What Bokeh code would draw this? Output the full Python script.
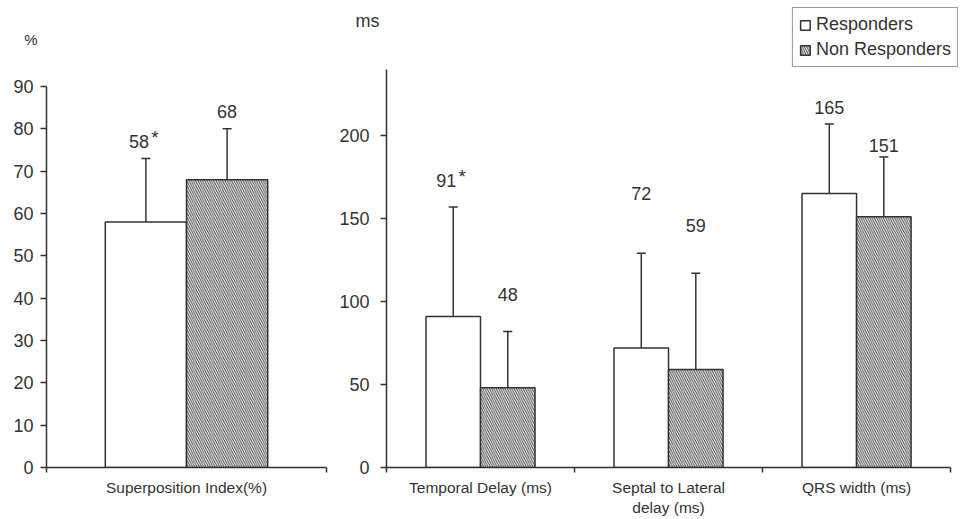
import numpy as np
from bokeh.plotting import figure
from bokeh.layouts import row
from bokeh.models import FixedTicker, Legend, LegendItem, Range1d, LinearAxis
from bokeh.core.properties import value
from bokeh.embed import file_html
from bokeh.resources import INLINE

# ---------------- data ----------------
left_categories = ["Superposition Index(%)"]
left_responders = [58]
left_responders_sd = [15]
left_non_responders = [68]
left_non_responders_sd = [12]
left_resp_label_y = [77]
left_non_label_y = [84]
left_resp_sig = [True]
left_non_sig = [False]

right_categories = ["Temporal Delay (ms)", "Septal to Lateral\ndelay (ms)", "QRS width (ms)"]
right_responders = [91, 72, 165]
right_responders_sd = [66, 57, 42]
right_non_responders = [48, 59, 151]
right_non_responders_sd = [34, 58, 36]
right_resp_label_y = [173, 165, 217]
right_non_label_y = [104, 146, 194]
right_resp_sig = [True, False, False]
right_non_sig = [False, False, False]

left_yticks = list(range(0, 91, 10))
left_ymax = 90
left_unit = "%"
left_unit_y = 101
right_yticks = [0, 50, 100, 150, 200]
right_ymax = 240
right_unit = "ms"
right_unit_y = 269

FONT = "Liberation Sans"
DARK = "#333333"
TEXT = "#333333"

FRAME_BOTTOM = 467  # pixel row of the x axis


def make_fig(width, border_left, border_right, n, xpad, ymax, yscale, yticks, standoff):
    # frame reaches the top of the canvas; axis line limited with bounds
    p = figure(width=width, height=519, output_backend="svg", toolbar_location=None,
               x_range=Range1d(0, n + xpad), y_range=Range1d(0, FRAME_BOTTOM / yscale),
               min_border_left=border_left, min_border_right=border_right,
               min_border_top=0, min_border_bottom=519 - FRAME_BOTTOM)
    p.outline_line_color = None
    p.grid.visible = False
    p.background_fill_color = "white"
    p.border_fill_color = "white"
    ya = p.yaxis[0]
    ya.bounds = (0, ymax)
    ya.ticker = FixedTicker(ticks=yticks)
    ya.major_tick_out = 6
    ya.major_tick_in = 0
    ya.minor_tick_out = 0
    ya.minor_tick_in = 0
    ya.axis_line_color = DARK
    ya.axis_line_width = 1.5
    ya.major_tick_line_color = DARK
    ya.major_tick_line_width = 1.5
    ya.major_label_text_font = FONT
    ya.major_label_text_font_size = "18px"
    ya.major_label_text_color = TEXT
    ya.major_label_standoff = standoff
    return p


def add_unit(p, text, y, standoff, size):
    # unit caption above the y axis, drawn as a label-only axis
    ax = LinearAxis(ticker=FixedTicker(ticks=[y]), major_label_overrides={y: text},
                    axis_line_color=None,
                    major_tick_line_color=None, minor_tick_line_color=None,
                    major_tick_out=0, major_tick_in=0, minor_tick_out=0, minor_tick_in=0,
                    major_label_standoff=standoff, major_label_text_font=FONT,
                    major_label_text_font_size=size, major_label_text_color=TEXT)
    p.add_layout(ax, "left")


def draw(p, cats, resp, rsd, non, nsd, rly, nly, rsig, nsig):
    centers = np.arange(len(cats)) + 0.5
    w = 0.29
    xr = centers - w / 2
    xn = centers + w / 2
    resp = np.array(resp, dtype=float)
    non = np.array(non, dtype=float)
    rtop = resp + np.array(rsd)
    ntop = non + np.array(nsd)

    xa = p.xaxis[0]
    xa.bounds = (0, len(cats))
    xa.ticker = FixedTicker(ticks=list(centers), minor_ticks=list(range(len(cats) + 1)))
    xa.major_tick_out = 0
    xa.major_tick_in = 0
    xa.minor_tick_out = 5
    xa.minor_tick_in = 0
    xa.minor_tick_line_color = DARK
    xa.minor_tick_line_width = 1.5
    xa.axis_line_color = DARK
    xa.axis_line_width = 1.5
    xa.major_label_overrides = {float(c): cat for c, cat in zip(centers, cats)}
    xa.major_label_text_font = FONT
    xa.major_label_text_font_size = "15.5px"
    xa.major_label_text_color = TEXT
    xa.major_label_standoff = 6

    # whiskers
    p.segment(x0=xr, y0=resp, x1=xr, y1=rtop, line_color=DARK, line_width=1.5)
    p.segment(x0=xn, y0=non, x1=xn, y1=ntop, line_color=DARK, line_width=1.5)
    p.dash(x=xr, y=rtop, size=9, line_color=DARK, line_width=1.5)
    p.dash(x=xn, y=ntop, size=9, line_color=DARK, line_width=1.5)

    r1 = p.vbar(x=xr, top=resp, bottom=0, width=w, fill_color="white",
                line_color=DARK, line_width=1.5)
    r2 = p.vbar(x=xn, top=non, bottom=0, width=w, fill_color="white",
                hatch_pattern="left_diagonal_line", hatch_color="#444444",
                hatch_scale=4.5, hatch_weight=1.0,
                line_color=DARK, line_width=1.5)

    for xs, vals, ly, sig in ((xr, resp, rly, rsig), (xn, non, nly, nsig)):
        offs = [-7 if s else 0 for s in sig]
        p.text(x=xs, y=ly, text=[str(int(v)) for v in vals], x_offset=offs,
               text_align="center", text_baseline="middle",
               text_font=value(FONT), text_font_size="18px", text_color=TEXT)
        sx = [x for x, s in zip(xs, sig) if s]
        sy = [y for y, s in zip(ly, sig) if s]
        if sx:
            p.text(x=sx, y=sy, text=["*"] * len(sx), x_offset=9, y_offset=-4,
                   text_align="center", text_baseline="middle",
                   text_font=value(FONT), text_font_size="19px", text_color=TEXT)
    return r1, r2


# left panel: 1 category, axis at x=46, 90 at y=85.7
p1 = make_fig(336, 46, 10, len(left_categories), 0, left_ymax, (466.7 - 85.7) / 90,
              left_yticks, 7)
draw(p1, left_categories, left_responders, left_responders_sd,
     left_non_responders, left_non_responders_sd,
     left_resp_label_y, left_non_label_y, left_resp_sig, left_non_sig)
add_unit(p1, left_unit, left_unit_y, -27, "15px")

# right panel: 3 categories, axis at x=383, 200 at y=134; frame runs to canvas edge
p2 = make_fig(629, 47, 0, len(right_categories), 3 * (582 / 567) - 3, right_ymax,
              (466 - 134) / 200, right_yticks, 11)
r1, r2 = draw(p2, right_categories, right_responders, right_responders_sd,
              right_non_responders, right_non_responders_sd,
              right_resp_label_y, right_non_label_y, right_resp_sig, right_non_sig)
add_unit(p2, right_unit, right_unit_y, -43, "18px")

legend = Legend(items=[LegendItem(label="Responders", renderers=[r1]),
                       LegendItem(label="Non Responders", renderers=[r2])],
                location="top_right", orientation="vertical",
                glyph_width=12, glyph_height=12, label_standoff=5,
                label_text_font=FONT, label_text_font_size="18px",
                label_text_color=TEXT, spacing=4, padding=6, margin=7,
                border_line_color=DARK, border_line_width=1.5,
                background_fill_alpha=1.0)
p2.add_layout(legend)

layout = row(p1, p2, spacing=0)
open("out.html", "w").write(file_html(layout, INLINE))
